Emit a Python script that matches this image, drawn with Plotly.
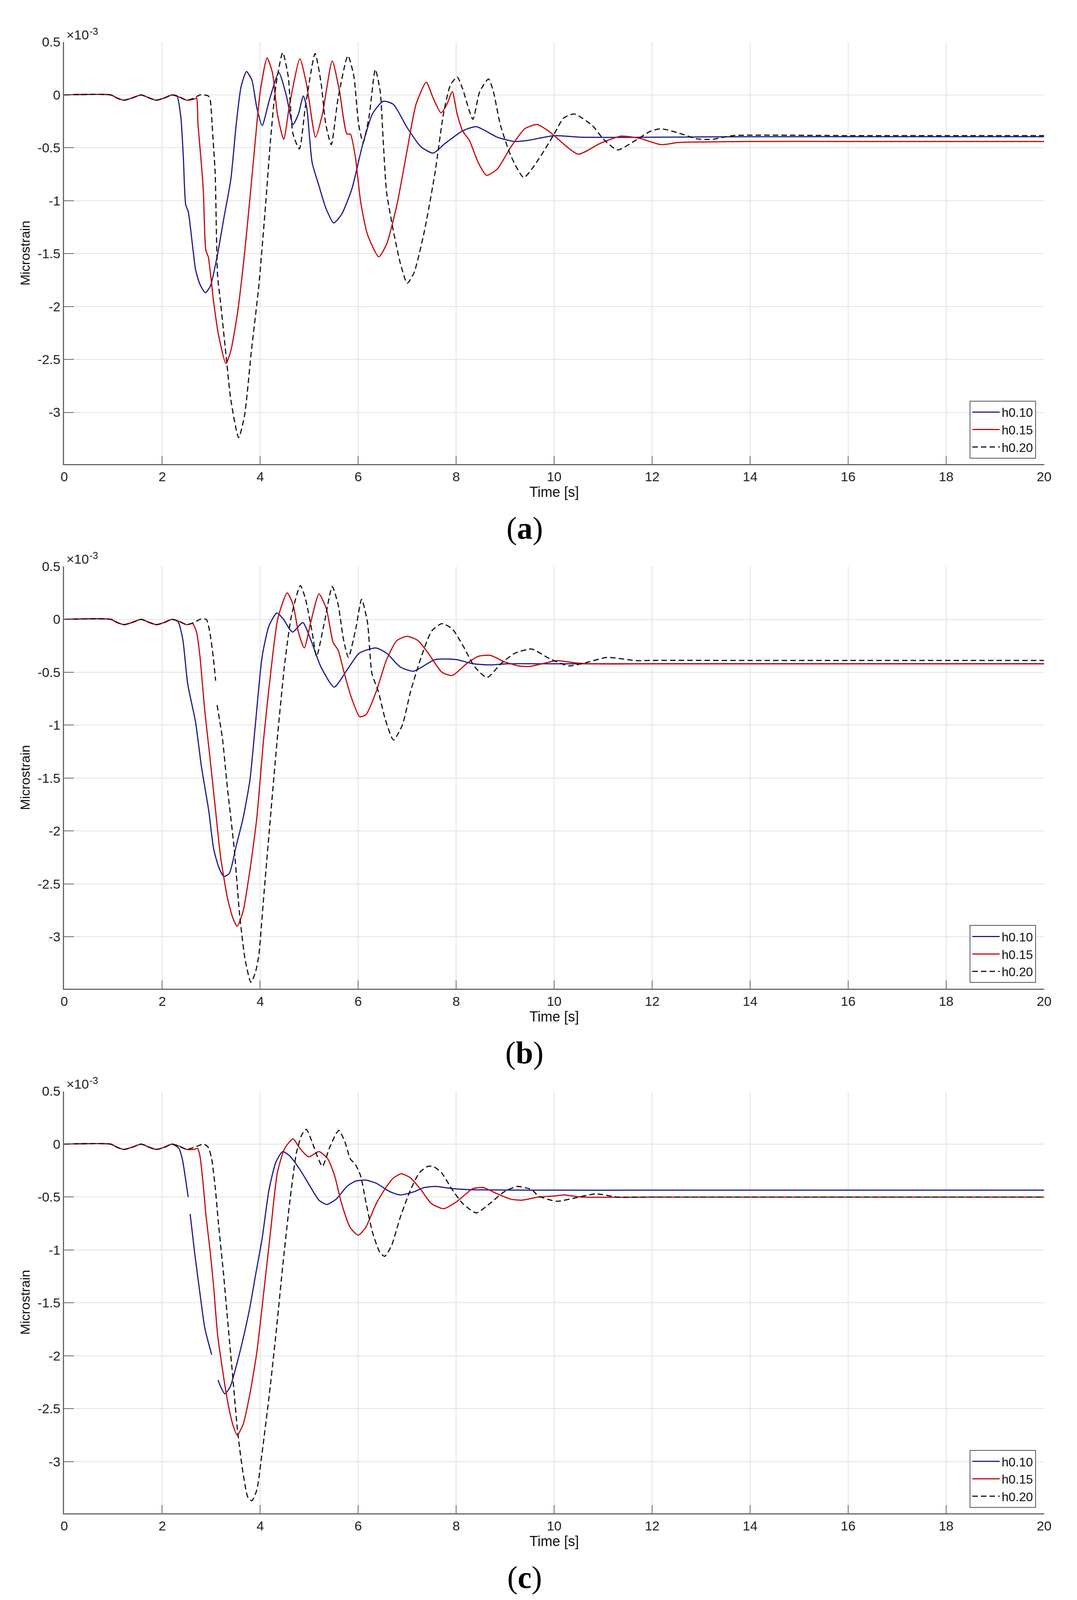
import plotly.graph_objects as go

# time axis ticks and y ticks (values are in units of 1e-3)
x_ticks = [0, 2, 4, 6, 8, 10, 12, 14, 16, 18, 20]
y_ticks = [0.5, 0, -0.5, -1, -1.5, -2, -2.5, -3]
y_ticklabels = ["0.5", "0", "-0.5", "-1", "-1.5", "-2", "-2.5", "-3"]
series_names = ["h0.10", "h0.15", "h0.20"]
panel_labels = ["a", "b", "c"]

# shared start of every record (before the drop)
t_pre = [0, 0.95, 1.08, 1.22, 1.38, 1.57, 1.74, 1.88, 2.04, 2.2]
v_pre = [0, 0, -0.03, -0.05, -0.03, 0, -0.03, -0.05, -0.03, 0]

# ---- panel (a)
ta_h010 = [2.3, 2.38, 2.43, 2.48, 2.53, 2.63, 2.68, 2.77, 2.88, 2.98, 3.12, 3.26, 3.4, 3.51, 3.61, 3.72,
           3.83, 3.93, 4.04, 4.18, 4.38, 4.53, 4.67, 4.78, 4.88, 4.95, 5.06, 5.2, 5.34, 5.5, 5.66, 5.87,
           6.08, 6.29, 6.51, 6.72, 7.0, 7.28, 7.53, 7.77, 8.13, 8.41, 8.84, 9.19, 9.46, 10.0, 10.56, 12,
           14, 16, 18, 20]
va_h010 = [-0.01, -0.21, -0.58, -1.04, -1.1, -1.47, -1.65, -1.79, -1.87, -1.81, -1.53, -1.16, -0.8, -0.28,
           0.08, 0.22, 0.14, -0.12, -0.29, -0.06, 0.21, 0.0, -0.28, -0.18, -0.01, -0.12, -0.64, -0.86,
           -1.07, -1.21, -1.13, -0.89, -0.49, -0.18, -0.06, -0.09, -0.31, -0.49, -0.55, -0.46, -0.34, -0.3,
           -0.4, -0.44, -0.43, -0.385, -0.4, -0.4, -0.395, -0.395, -0.395, -0.395]
ta_h015 = [2.35, 2.5, 2.65, 2.7, 2.73, 2.79, 2.84, 2.89, 2.94, 3.05, 3.15, 3.3, 3.4, 3.54, 3.68, 3.79, 3.9,
           4.0, 4.14, 4.25, 4.35, 4.48, 4.6, 4.81, 4.95, 5.13, 5.27, 5.47, 5.62, 5.77, 5.84, 5.94, 6.05,
           6.19, 6.42, 6.58, 6.79, 7.0, 7.18, 7.39, 7.53, 7.69, 7.81, 7.92, 8.02, 8.13, 8.27, 8.45, 8.62,
           8.84, 9.12, 9.4, 9.65, 9.88, 10.0, 10.49, 10.93, 11.37, 11.74, 12.18, 12.54, 14, 16, 18, 20]
va_h015 = [-0.02, -0.05, -0.04, -0.03, -0.28, -0.6, -0.92, -1.47, -1.53, -1.96, -2.27, -2.54, -2.42, -2.05,
           -1.5, -0.98, -0.43, 0.03, 0.35, 0.21, -0.18, -0.42, -0.09, 0.34, 0.09, -0.4, -0.18, 0.32, 0.03,
           -0.37, -0.37, -0.58, -1.01, -1.32, -1.53, -1.41, -1.04, -0.52, -0.09, 0.12, -0.03, -0.17, -0.09,
           0.03, -0.18, -0.34, -0.43, -0.64, -0.76, -0.7, -0.49, -0.32, -0.28, -0.34, -0.385, -0.56, -0.46,
           -0.39, -0.41, -0.47, -0.45, -0.44, -0.44, -0.44, -0.44]
ta_h020 = [2.35, 2.5, 2.65, 2.77, 2.94, 2.98, 3.03, 3.08, 3.13, 3.19, 3.3, 3.4, 3.56, 3.68, 3.82, 3.97,
           4.11, 4.21, 4.32, 4.46, 4.57, 4.67, 4.8, 4.92, 5.12, 5.24, 5.34, 5.45, 5.59, 5.79, 5.91, 6.01,
           6.1, 6.22, 6.35, 6.45, 6.51, 6.58, 6.72, 6.86, 7.0, 7.14, 7.35, 7.57, 7.74, 7.88, 8.02, 8.13,
           8.34, 8.48, 8.66, 8.76, 8.9, 9.12, 9.38, 9.68, 10.0, 10.19, 10.41, 10.78, 11.0, 11.29, 11.66,
           11.96, 12.18, 12.54, 12.91, 13.21, 13.65, 14.2, 16, 18, 20]
va_h020 = [-0.02, -0.05, -0.03, 0.0, -0.01, -0.05, -0.37, -0.73, -1.71, -1.96, -2.45, -2.88, -3.24, -3.03,
           -2.42, -1.81, -1.04, -0.43, 0.09, 0.4, 0.18, -0.37, -0.51, -0.12, 0.39, 0.12, -0.28, -0.47,
           -0.03, 0.37, 0.18, -0.28, -0.45, -0.21, 0.24, 0.03, -0.43, -0.92, -1.29, -1.59, -1.78, -1.68,
           -1.29, -0.73, -0.18, 0.09, 0.17, 0.06, -0.23, 0.03, 0.15, 0.03, -0.28, -0.58, -0.78, -0.61,
           -0.37, -0.22, -0.18, -0.29, -0.415, -0.52, -0.43, -0.345, -0.32, -0.36, -0.415, -0.42, -0.385,
           -0.38, -0.385, -0.385, -0.385]

# ---- panel (b)
tb_h010 = [2.32, 2.42, 2.52, 2.68, 2.8, 2.95, 3.05, 3.16, 3.26, 3.37, 3.51, 3.65, 3.79, 3.9, 4.04, 4.18,
           4.34, 4.46, 4.66, 4.87, 5.03, 5.24, 5.51, 5.77, 6.02, 6.36, 6.58, 6.86, 7.13, 7.57, 8.0, 8.35,
           8.7, 9.05, 10, 12, 14, 16, 18, 20]
vb_h010 = [-0.02, -0.19, -0.61, -0.97, -1.39, -1.81, -2.17, -2.35, -2.43, -2.4, -2.14, -1.88, -1.52, -1.0,
           -0.35, -0.06, 0.06, 0.01, -0.12, -0.03, -0.19, -0.45, -0.64, -0.48, -0.32, -0.27, -0.32, -0.45,
           -0.49, -0.38, -0.38, -0.42, -0.43, -0.42, -0.42, -0.42, -0.42, -0.42, -0.42, -0.42]
tb_h015 = [2.35, 2.5, 2.62, 2.7, 2.77, 2.87, 2.98, 3.09, 3.19, 3.33, 3.44, 3.53, 3.65, 3.79, 3.93, 4.07,
           4.22, 4.36, 4.55, 4.67, 4.78, 4.9, 5.03, 5.2, 5.35, 5.49, 5.59, 5.7, 5.84, 6.03, 6.16, 6.37,
           6.58, 6.79, 7.0, 7.22, 7.43, 7.71, 7.92, 8.21, 8.45, 8.7, 8.98, 9.27, 9.5, 9.75, 10.05, 10.42,
           10.7, 12, 14, 16, 18, 20]
vb_h015 = [-0.02, -0.05, -0.04, -0.12, -0.35, -0.87, -1.33, -1.81, -2.24, -2.63, -2.82, -2.9, -2.76, -2.37,
           -1.88, -1.13, -0.48, 0.01, 0.25, 0.14, -0.12, -0.27, -0.03, 0.24, 0.1, -0.22, -0.29, -0.48,
           -0.71, -0.92, -0.9, -0.68, -0.38, -0.2, -0.16, -0.2, -0.32, -0.5, -0.53, -0.42, -0.35, -0.34,
           -0.4, -0.44, -0.445, -0.42, -0.39, -0.41, -0.42, -0.42, -0.42, -0.42, -0.42, -0.42]
tb_h020 = [2.35, 2.5, 2.65, 2.77, 2.9, 2.97, 3.04, 3.09, None, 3.12, 3.23, 3.33, 3.47, 3.58, 3.69, 3.81,
           3.9, 3.97, 4.07, 4.22, 4.36, 4.5, 4.64, 4.82, 4.92, 5.06, 5.15, 5.31, 5.47, 5.59, 5.7, 5.8,
           5.95, 6.07, 6.19, 6.28, 6.41, 6.55, 6.72, 6.9, 7.07, 7.29, 7.5, 7.71, 7.92, 8.14, 8.38, 8.63,
           8.91, 9.2, 9.54, 9.9, 10.3, 10.64, 11.08, 11.67, 12, 14, 16, 18, 20]
vb_h020 = [-0.02, -0.05, -0.03, 0.0, 0.0, -0.12, -0.35, -0.58, None, -0.81, -1.13, -1.59, -2.17, -2.79,
           -3.21, -3.43, -3.34, -3.18, -2.63, -1.81, -1.07, -0.42, 0.04, 0.32, 0.2, -0.12, -0.35, -0.03,
           0.31, 0.14, -0.19, -0.36, -0.09, 0.19, -0.03, -0.51, -0.68, -0.94, -1.14, -1.0, -0.68, -0.35,
           -0.11, -0.04, -0.09, -0.25, -0.45, -0.55, -0.42, -0.32, -0.28, -0.37, -0.44, -0.41, -0.36,
           -0.39, -0.388, -0.388, -0.388, -0.388, -0.388]

# ---- panel (c)
tc_h010 = [2.34, 2.41, 2.48, 2.53, None, 2.57, 2.66, 2.77, 2.87, 3.01, None, 3.14, 3.19, 3.28, 3.39, 3.51,
           3.65, 3.79, 3.9, 4.04, 4.18, 4.32, 4.46, 4.6, 4.81, 5.02, 5.2, 5.36, 5.55, 5.77, 5.94, 6.15,
           6.37, 6.65, 6.86, 7.14, 7.35, 7.57, 7.92, 8.27, 10, 12, 14, 16, 18, 20]
vc_h010 = [-0.04, -0.14, -0.34, -0.5, None, -0.66, -1.02, -1.41, -1.74, -1.99, None, -2.23, -2.29, -2.36,
           -2.29, -2.1, -1.84, -1.54, -1.25, -0.89, -0.43, -0.17, -0.07, -0.11, -0.24, -0.4, -0.53, -0.57,
           -0.52, -0.4, -0.35, -0.34, -0.37, -0.45, -0.48, -0.45, -0.41, -0.4, -0.42, -0.43, -0.435,
           -0.435, -0.435, -0.435, -0.435, -0.435]
tc_h015 = [2.35, 2.5, 2.65, 2.72, 2.77, 2.84, 2.89, 2.98, 3.05, 3.13, 3.23, 3.33, 3.44, 3.53, 3.65, 3.79,
           3.93, 4.07, 4.21, 4.35, 4.5, 4.67, 4.81, 4.99, 5.2, 5.38, 5.52, 5.66, 5.84, 6.0, 6.15, 6.37,
           6.58, 6.72, 6.88, 7.07, 7.28, 7.49, 7.74, 7.99, 8.2, 8.34, 8.55, 8.84, 9.12, 9.33, 9.68, 10.0,
           10.2, 10.56, 12, 14, 16, 18, 20]
vc_h015 = [-0.02, -0.05, -0.05, -0.04, -0.11, -0.4, -0.66, -1.02, -1.35, -1.8, -2.13, -2.42, -2.65, -2.75,
           -2.65, -2.36, -1.97, -1.41, -0.83, -0.27, -0.04, 0.05, -0.04, -0.12, -0.07, -0.14, -0.3, -0.56,
           -0.79, -0.86, -0.79, -0.56, -0.4, -0.32, -0.28, -0.32, -0.43, -0.56, -0.61, -0.55, -0.47, -0.42,
           -0.41, -0.47, -0.52, -0.53, -0.5, -0.49, -0.48, -0.5, -0.5, -0.5, -0.5, -0.5, -0.5]
tc_h020 = [2.35, 2.5, 2.65, 2.85, 2.94, 3.01, 3.08, 3.15, 3.25, 3.33, 3.44, 3.54, 3.65, 3.75, 3.83, 3.93,
           4.04, 4.18, 4.32, 4.46, 4.6, 4.74, 4.85, 4.94, 5.06, 5.17, 5.27, 5.41, 5.55, 5.61, 5.73, 5.84,
           5.94, 6.05, 6.15, 6.29, 6.44, 6.54, 6.68, 6.86, 7.07, 7.25, 7.42, 7.53, 7.7, 7.92, 8.13, 8.41,
           8.69, 8.98, 9.25, 9.54, 9.68, 10.05, 10.41, 10.85, 11.29, 12, 14, 16, 18, 20]
vc_h020 = [-0.02, -0.05, -0.03, 0.0, -0.03, -0.14, -0.4, -0.76, -1.22, -1.64, -2.2, -2.72, -3.11, -3.34,
           -3.37, -3.27, -2.91, -2.39, -1.8, -1.15, -0.56, -0.08, 0.09, 0.14, 0.02, -0.12, -0.21, -0.04,
           0.1, 0.13, 0.02, -0.14, -0.19, -0.3, -0.53, -0.83, -1.02, -1.06, -0.96, -0.69, -0.43, -0.27,
           -0.21, -0.21, -0.27, -0.43, -0.56, -0.65, -0.56, -0.45, -0.4, -0.43, -0.49, -0.54, -0.51, -0.47,
           -0.5, -0.5, -0.5, -0.5, -0.5, -0.5]

panels = [
    [(ta_h010, va_h010), (ta_h015, va_h015), (ta_h020, va_h020)],
    [(tb_h010, vb_h010), (tb_h015, vb_h015), (tb_h020, vb_h020)],
    [(tc_h010, vc_h010), (tc_h015, vc_h015), (tc_h020, vc_h020)],
]

# positions are taken from the 2758x5006 reference; the page only shows about 4090 px,
# so the whole layout is squeezed vertically to fit
W, REF_H = 2758, 5006
H = 4090
left, right = 149, 2684
tops = [99, 1750, 3402]
plot_h = 1329


def fy(px):
    return 1 - px / REF_H


colors = ["#1c1c8e", "#c40a0a", "#151515"]
dashes = ["solid", "solid", "14px,8px"]
font = "Liberation Sans, Arial, sans-serif"

fig = go.Figure()
annotations = []
layout_axes = {}

for i, series in enumerate(panels):
    n = "" if i == 0 else str(i + 1)
    top = tops[i]
    bottom = top + plot_h
    legend_name = "legend" + n

    for j, (t, v) in enumerate(series):
        fig.add_trace(go.Scatter(
            x=t_pre + t, y=v_pre + v, mode="lines", name=series_names[j],
            line=dict(color=colors[j], width=3, dash=dashes[j], shape="spline", smoothing=0.6),
            connectgaps=False, xaxis="x" + n, yaxis="y" + n, legend=legend_name))

    layout_axes["xaxis" + n] = dict(
        domain=[left / W, right / W], range=[0, 20], anchor="y" + n,
        tickvals=x_ticks, ticks="inside", ticklen=21, tickwidth=2, tickcolor="#666",
        showline=True, linecolor="#666", linewidth=3,
        showgrid=True, gridcolor="#e2e2e2", gridwidth=2, zeroline=False,
        tickfont=dict(family=font, size=34, color="#222"),
        title=dict(text="Time [s]", standoff=6, font=dict(family=font, size=36, color="#111")))
    layout_axes["yaxis" + n] = dict(
        domain=[fy(bottom), fy(top)], range=[-3.49, 0.5], anchor="x" + n,
        tickvals=y_ticks, ticktext=y_ticklabels, ticks="inside", ticklen=25, tickwidth=2, tickcolor="#666",
        showline=True, linecolor="#666", linewidth=3,
        showgrid=True, gridcolor="#e2e2e2", gridwidth=2, zeroline=False,
        tickfont=dict(family=font, size=34, color="#222"),
        title=dict(text="Microstrain", standoff=10, font=dict(family=font, size=34, color="#111")))
    layout_axes[legend_name] = dict(
        x=2663 / W, y=fy(bottom - 18), xanchor="right", yanchor="bottom",
        bgcolor="white", bordercolor="#555", borderwidth=2,
        font=dict(family=font, size=32, color="#111"), tracegroupgap=0, itemwidth=70)

    # exponent (base and power as two labels) and panel label
    annotations.append(dict(x=153 / W, y=fy(top), xref="paper", yref="paper", xanchor="left",
                            yanchor="bottom", yshift=-2, showarrow=False, text="\u00d710",
                            font=dict(family=font, size=34, color="#222")))
    annotations.append(dict(x=212 / W, y=fy(top), xref="paper", yref="paper", xanchor="left",
                            yanchor="bottom", yshift=12, showarrow=False, text="-3",
                            font=dict(family=font, size=25, color="#222")))
    annotations.append(dict(x=1340 / W, y=fy(bottom + 202), xref="paper", yref="paper",
                            xanchor="center", yanchor="middle", showarrow=False,
                            text="(<b>" + panel_labels[i] + "</b>)",
                            font=dict(family="Liberation Serif, serif", size=80, color="black")))

fig.update_layout(
    width=W, height=H, margin=dict(l=0, r=0, t=0, b=0),
    paper_bgcolor="white", plot_bgcolor="white",
    annotations=annotations, **layout_axes)

fig.write_html("out.html")
